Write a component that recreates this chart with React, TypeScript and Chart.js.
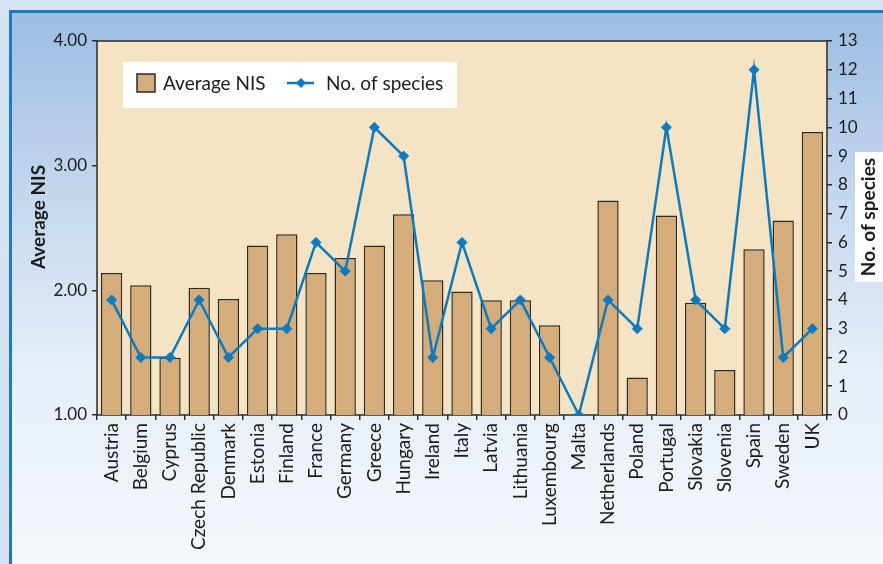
import React, { useEffect, useRef } from "react";
import { Chart, registerables } from "chart.js";

Chart.register(...registerables);

const countries = [
  "Austria", "Belgium", "Cyprus", "Czech Republic", "Denmark", "Estonia", "Finland",
  "France", "Germany", "Greece", "Hungary", "Ireland", "Italy", "Latvia", "Lithuania",
  "Luxembourg", "Malta", "Netherlands", "Poland", "Portugal", "Slovakia", "Slovenia",
  "Spain", "Sweden", "UK",
];
const averageNIS: (number | null)[] = [
  2.14, 2.04, 1.46, 2.02, 1.93, 2.36, 2.45, 2.14, 2.26, 2.36, 2.61, 2.08, 1.99, 1.92, 1.92,
  1.72, null, 2.72, 1.30, 2.60, 1.90, 1.36, 2.33, 2.56, 3.27,
];
const speciesCount = [
  4, 2, 2, 4, 2, 3, 3, 6, 5, 10, 9, 2, 6, 3, 4, 2, 0, 4, 3, 10, 4, 3, 12, 2, 3,
];
const leftAxisRange = [1, 4];
const rightAxisRange = [0, 13];
const barLabel = "Average NIS";
const lineLabel = "No. of species";
const leftTitle = "Average NIS";
const rightTitle = "No. of species";

const FONT = "Lato, 'DejaVu Sans', sans-serif";
const BAR_FILL = "#d4ad7a";
const BAR_EDGE = "#2e2a24";
const LINE = "#0a7bc1";
const TEXT = "#1c1c1c";

const decorPlugin = {
  id: "decor",
  beforeDraw(chart: any) {
    const { ctx, chartArea } = chart;
    const { left, top, right, bottom } = chartArea;
    ctx.save();
    ctx.fillStyle = "#f5e4c4";
    ctx.fillRect(left, top, right - left, bottom - top);
    ctx.restore();
  },
  beforeDatasetsDraw(chart: any) {
    const { ctx, chartArea } = chart;
    const { left, top, right, bottom } = chartArea;
    ctx.save();
    ctx.strokeStyle = "#2b2b2b";
    ctx.lineWidth = 1.5;
    ctx.strokeRect(left, top, right - left, bottom - top);
    ctx.restore();
  },
  afterDraw(chart: any) {
    const { ctx } = chart;
    ctx.save();
    // legend box
    ctx.fillStyle = "#ffffff";
    ctx.fillRect(123, 62, 334, 46);
    ctx.fillStyle = BAR_FILL;
    ctx.fillRect(137, 74, 18, 18);
    ctx.strokeStyle = BAR_EDGE;
    ctx.lineWidth = 1.5;
    ctx.strokeRect(137, 74, 18, 18);
    ctx.fillStyle = TEXT;
    ctx.font = `19px ${FONT}`;
    ctx.textBaseline = "middle";
    ctx.textAlign = "left";
    ctx.fillText(barLabel, 163, 84);
    ctx.strokeStyle = LINE;
    ctx.lineWidth = 2.5;
    ctx.beginPath();
    ctx.moveTo(287, 83);
    ctx.lineTo(314, 83);
    ctx.stroke();
    ctx.fillStyle = LINE;
    ctx.beginPath();
    ctx.moveTo(301, 78);
    ctx.lineTo(306, 83);
    ctx.lineTo(301, 88);
    ctx.lineTo(296, 83);
    ctx.closePath();
    ctx.fill();
    ctx.fillStyle = TEXT;
    ctx.fillText(lineLabel, 326, 84);

    // left title
    ctx.font = `bold 19px ${FONT}`;
    ctx.textAlign = "center";
    ctx.textBaseline = "middle";
    ctx.save();
    ctx.translate(39, 217);
    ctx.rotate(-Math.PI / 2);
    ctx.fillStyle = TEXT;
    ctx.fillText(leftTitle, 0, 0);
    ctx.restore();

    // right title with white background
    ctx.fillStyle = "#ffffff";
    ctx.fillRect(855, 152, 28, 130);
    ctx.save();
    ctx.translate(869, 217);
    ctx.rotate(-Math.PI / 2);
    ctx.fillStyle = TEXT;
    ctx.fillText(rightTitle, 0, 0);
    ctx.restore();
    ctx.restore();
  },
};

export default function App() {
  const canvasRef = useRef<HTMLCanvasElement | null>(null);

  useEffect(() => {
    const canvas = canvasRef.current;
    if (!canvas) return;
    const chart = new Chart(canvas, {
      type: "bar",
      data: {
        labels: countries,
        datasets: [
          {
            type: "line",
            label: lineLabel,
            data: speciesCount,
            yAxisID: "y1",
            borderColor: LINE,
            backgroundColor: LINE,
            borderWidth: 2.5,
            pointStyle: "rectRot",
            pointRadius: 5,
            pointBackgroundColor: LINE,
            pointBorderColor: LINE,
            pointBorderWidth: 1,
            tension: 0,
            order: 0,
          } as any,
          {
            type: "bar",
            label: barLabel,
            data: averageNIS,
            yAxisID: "y",
            backgroundColor: BAR_FILL,
            borderColor: BAR_EDGE,
            borderWidth: 1.5,
            categoryPercentage: 1,
            barPercentage: 0.73,
            order: 1,
          } as any,
        ],
      },
      options: {
        responsive: false,
        animation: false,
        devicePixelRatio: 1,
        layout: { padding: { top: 41, left: 0, right: 0, bottom: 0 } },
        plugins: {
          legend: { display: false },
          tooltip: { enabled: false },
          title: { display: false },
        },
        scales: {
          x: {
            border: { display: false },
            grid: {
              display: true,
              drawOnChartArea: false,
              drawTicks: true,
              tickLength: 5,
              color: "#2b2b2b",
              lineWidth: 1.5,
            },
            ticks: {
              color: TEXT,
              font: { family: FONT, size: 19 },
              minRotation: 90,
              maxRotation: 90,
              autoSkip: false,
              padding: 3,
            },
            afterFit: (scale: any) => {
              scale.height = 149;
            },
          },
          y: {
            position: "left",
            min: leftAxisRange[0],
            max: leftAxisRange[1],
            border: { display: false },
            grid: {
              display: true,
              drawOnChartArea: false,
              tickLength: 5,
              color: "#2b2b2b",
              lineWidth: 1.5,
            },
            ticks: {
              stepSize: 1,
              color: TEXT,
              font: { family: FONT, size: 17 },
              padding: 5,
              callback: (v: any) => Number(v).toFixed(2),
            },
            afterFit: (scale: any) => {
              scale.width = 97;
            },
          },
          y1: {
            position: "right",
            min: rightAxisRange[0],
            max: rightAxisRange[1],
            border: { display: false },
            grid: {
              display: true,
              drawOnChartArea: false,
              tickLength: 5,
              color: "#2b2b2b",
              lineWidth: 1.5,
            },
            ticks: {
              stepSize: 1,
              color: TEXT,
              font: { family: FONT, size: 17 },
              padding: 6,
            },
            afterFit: (scale: any) => {
              scale.width = 56;
            },
          },
        },
      },
      plugins: [decorPlugin],
    });
    return () => chart.destroy();
  }, []);

  return (
    <div
      style={{
        position: "fixed",
        left: 0,
        top: 0,
        width: 883,
        height: 564,
        overflow: "hidden",
        background: "#d5e4f2",
      }}
    >
      <div
        style={{
          position: "absolute",
          left: 9,
          top: 10,
          width: 900,
          height: 600,
          boxSizing: "border-box",
          borderLeft: "3px solid #1a7cc4",
          borderTop: "3px solid #1a7cc4",
          background: "linear-gradient(#9dbde3 0%, #c3d7ee 30%, #e6eef8 60%, #f8fafd 100%)",
        }}
      />
      <canvas
        ref={canvasRef}
        width={883}
        height={564}
        style={{ position: "absolute", left: 0, top: 0, width: 883, height: 564 }}
      />
    </div>
  );
}
